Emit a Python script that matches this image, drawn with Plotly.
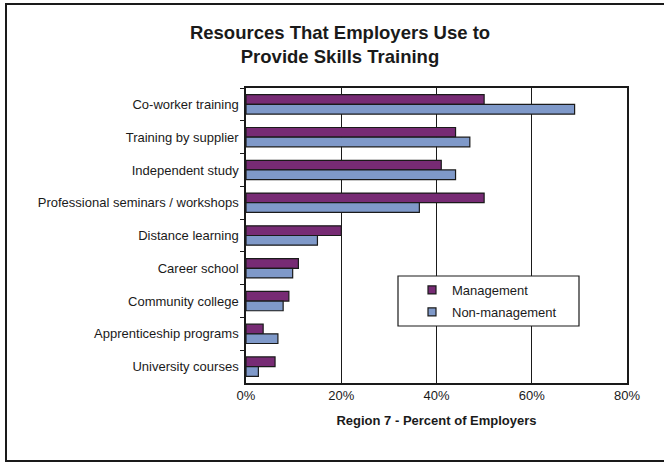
import plotly.graph_objects as go

categories = ["Co-worker training", "Training by supplier", "Independent study",
              "Professional seminars / workshops", "Distance learning", "Career school",
              "Community college", "Apprenticeship programs", "University courses"]
management = [50, 44, 41, 50, 20, 11, 9, 3.6, 6.1]
non_management = [69, 47, 44, 36.4, 15, 9.8, 7.8, 6.7, 2.6]
x_ticks = [0, 20, 40, 60, 80]
x_tick_labels = ["0%", "20%", "40%", "60%", "80%"]
series_names = ["Management", "Non-management"]
series_colors = ["#772B74", "#7F99C9"]

title_text = "<b>Resources That Employers Use to<br>Provide Skills Training</b>"
x_title = "<b>Region 7 - Percent of Employers</b>"

font_family = "Liberation Sans, Arial, sans-serif"
ink = "#1a1a1a"

fig = go.Figure()
for name, vals, col in zip(series_names, [management, non_management], series_colors):
    fig.add_trace(go.Bar(y=categories, x=vals, name=name, orientation="h",
                         showlegend=False,
                         marker=dict(color=col, line=dict(color=ink, width=1.2))))
# legend entries (small square swatches like the original)
for name, col in zip(series_names, series_colors):
    fig.add_trace(go.Scatter(x=[None], y=[None], mode="markers", name=name,
                             legendgroup=name,
                             marker=dict(symbol="square", size=8, color=col,
                                         line=dict(color=ink, width=1.2))))

L, R, T, B = 246, 37, 88, 79
W, H = 664, 462
pw, ph = W - L - R, H - T - B


def px_x(p):
    return (p - L) / pw


def px_y(p):
    return (H - B - p) / ph


fig.update_layout(
    width=W, height=H,
    margin=dict(l=L, r=R, t=T, b=B),
    paper_bgcolor="white", plot_bgcolor="white",
    font=dict(family=font_family, size=13, color=ink),
    barmode="group", bargap=0.41, bargroupgap=0,
    title=dict(text=title_text, x=px_x(340), xanchor="center", xref="paper",
               y=1 - 39 / H, yanchor="middle", font=dict(size=18.5, color=ink)),
    showlegend=True,
    legend=dict(x=px_x(412), y=px_y(275), xanchor="left", yanchor="top",
                bgcolor="rgba(0,0,0,0)", borderwidth=0, itemwidth=30,
                font=dict(size=13, color=ink), tracegroupgap=2),
    shapes=[
        dict(type="rect", xref="paper", yref="paper",
             x0=px_x(398), x1=px_x(579), y0=px_y(276), y1=px_y(326),
             line=dict(color=ink, width=1.2), fillcolor="white", layer="above"),
        dict(type="rect", xref="paper", yref="paper",
             x0=px_x(6), x1=px_x(700), y0=px_y(4), y1=px_y(461),
             line=dict(color=ink, width=2), fillcolor="rgba(0,0,0,0)", layer="above"),
    ],
)

fig.update_xaxes(range=[0, 80], tickvals=x_ticks, ticktext=x_tick_labels,
                 showgrid=True, gridcolor=ink, gridwidth=1.2,
                 showline=True, linecolor=ink, linewidth=1.5, mirror=True,
                 ticks="", zeroline=False,
                 title=dict(text=x_title, font=dict(size=13, color=ink), standoff=14))
fig.update_yaxes(autorange="reversed", showgrid=False,
                 showline=True, linecolor=ink, linewidth=1.5, mirror=True,
                 ticks="outside", tickson="boundaries", ticklen=4, tickcolor=ink,
                 ticklabelstandoff=3)

fig.write_html("out.html")
